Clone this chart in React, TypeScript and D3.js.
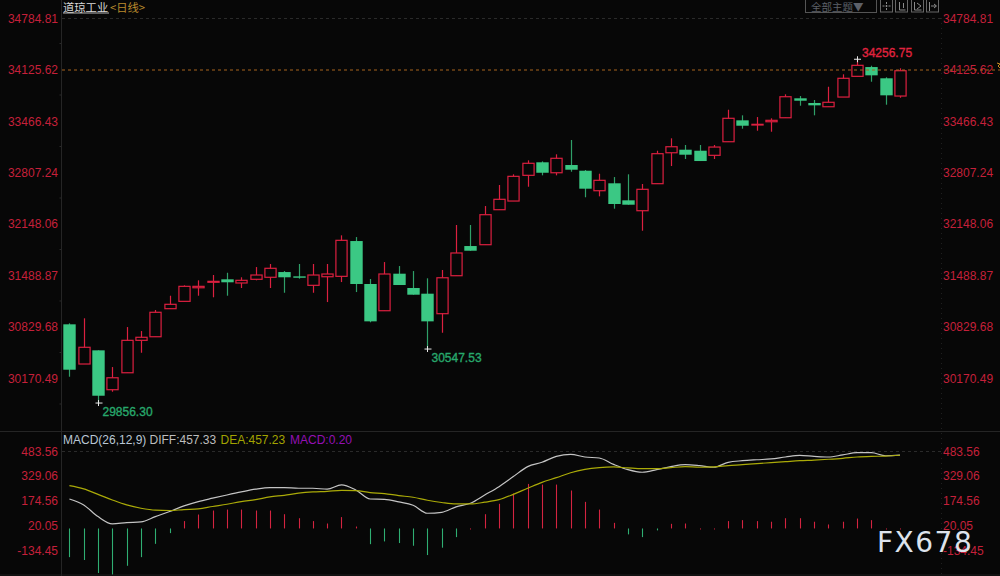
import * as d3 from "d3";

const opens = [30864,30356,30531,30027,30244,30659,30705,31064,31158,31332,31402,31440,31393,31440,31466,31533,31478,31363,31473,31478,31930,31380,31038,31512,31329,31256,31000,31486,31866,31883,32331,32442,32771,32938,32804,32903,32830,32574,32669,32451,32318,32664,33060,33099,33086,33027,33201,33475,33415,33457,33508,33757,33697,33649,33773,34038,34157,34013,33786];
const highs = [30877,30941,30531,30317,30829,30778,31047,31230,31363,31427,31495,31524,31466,31597,31636,31546,31636,31636,31636,32003,31981,31444,31661,31610,31546,31453,31559,32135,32135,32378,32647,32784,32963,32950,33040,33223,32839,32792,32749,32784,32660,33086,33245,33159,33159,33159,33611,33539,33517,33501,33808,33786,33735,33905,34064,34256.75,34174,34026,34141];
const lows = [30193,30356,29856.3,30001,30244,30500,30705,31064,31158,31230,31210,31230,31329,31427,31329,31268,31448,31268,31149,31405,31277,30890,31038,31367,31243,30547.53,30756,31486,31806,31883,32331,32442,32625,32771,32771,32817,32490,32502,32344,32395,32062,32664,32890,32980,32954,32980,33201,33368,33342,33329,33508,33662,33539,33649,33773,34038,33969,33675,33764];
const closes = [30283,30570,29950,30180,30659,30698,31018,31120,31350,31350,31414,31402,31427,31495,31581,31466,31460,31495,31508,31939,31380,30902,31508,31367,31243,30902,31460,31777,31806,32267,32464,32758,32925,32804,32989,32843,32600,32707,32404,32395,32592,33048,33137,33035,32954,33133,33501,33406,33424,33475,33777,33726,33667,33706,34013,34179,34051,33795,34110];

const diff = [184,147,74,29,37,41,74,106,141,168,189,209,228,245,255,255,251,251,245,272,240,184,182,166,145,95,101,135,157,209,261,324,386,413,450,463,446,440,400,367,351,367,386,398,392,382,413,423,429,434,446,456,450,446,459,473,473,454,457.33];
const dea = [267,247,213,178,147,126,114,112,118,122,137,151,168,180,197,207,220,228,232,238,236,224,218,205,195,176,162,153,153,164,180,213,251,288,317,348,369,380,384,378,373,373,380,386,382,384,392,398,405,411,417,423,427,432,438,446,450,452,457.23];
const hist = [-179,-197,-278,-287,-233,-179,-96,-29,46,87,112,118,118,112,112,89,64,46,31,71,12,-98,-81,-91,-108,-166,-120,-54,4,89,154,218,278,274,274,237,166,118,35,-37,-54,-12,29,31,6,6,46,52,46,42,64,64,42,25,42,62,52,4,0.2];

const priceTicks = ["34784.81","34125.62","33466.43","32807.24","32148.06","31488.87","30829.68","30170.49"];
const macdTicks = ["483.56","329.06","174.56","20.05","-134.45"];
const lastPrice = 34125.62;

const RED = "#dc2040";
const GREEN = "#3bc884";
const BG = "#070707";
const FONT = "'Liberation Sans', Arial, sans-serif";
const CJK = "'Noto Sans CJK SC', sans-serif";

const x = d3.scaleLinear().domain([0, opens.length - 1]).range([69.4, 900]);
const y = d3.scaleLinear().domain([34784.81, 30170.49]).range([18, 378.5]);
const my = d3.scaleLinear().domain([483.56, -134.45]).range([451, 550]);

const macdLine = d3
  .line<number>()
  .x((_, i) => x(i))
  .y((d) => my(d))
  .curve(d3.curveMonotoneX);

const App = () => {
  const lowIdx = [2, 25];
  const highIdx = 55;
  return (
    <svg width={1000} height={576} style={{ position: "fixed", left: 0, top: 0, background: BG }} fontFamily={FONT}>
      {/* frame lines */}
      <line x1={61.5} x2={61.5} y1={0} y2={576} stroke="#252525" />
      <line x1={0} x2={1000} y1={431.5} y2={431.5} stroke="#252525" />
      <line x1={0} x2={1000} y1={575} y2={575} stroke="#1c1c1c" />
      <line x1={941.5} x2={941.5} y1={18} y2={576} stroke="#202020" strokeDasharray="1 4" />
      <line x1={62} x2={941} y1={y(34784.81) + 0.5} y2={y(34784.81) + 0.5} stroke="#2a2a2a" strokeDasharray="3 3" />
      <line x1={62} x2={941} y1={my(483.56) + 0.5} y2={my(483.56) + 0.5} stroke="#2a2a2a" strokeDasharray="3 3" />

      {/* price axis */}
      {priceTicks.map((t) => (
        <g key={t} fontSize={12} fill="#c5203a">
          <text x={58} y={y(+t) + 4.5} textAnchor="end">{t}</text>
          <text x={943} y={y(+t) + 4.5}>{t}</text>
          <line x1={59.5} x2={61} y1={y(+t) + 25.5} y2={y(+t) + 25.5} stroke="#2a2a2a" />
        </g>
      ))}
      {macdTicks.map((t) => (
        <g key={t} fontSize={12} fill="#c5203a">
          <text x={58} y={my(+t) + 4.5} textAnchor="end">{t}</text>
          <text x={943} y={my(+t) + 4.5}>{t}</text>
        </g>
      ))}

      {/* candles */}
      {opens.map((o, i) => {
        const c = closes[i];
        const up = c >= o;
        const cx = Math.round(x(i)) + 0.5;
        const top = y(Math.max(o, c));
        const bottom = y(Math.min(o, c));
        return (
          <g key={i}>
            <line
              x1={cx}
              x2={cx}
              y1={y(highs[i])}
              y2={y(lows[i])}
              stroke={up ? RED : "#2f9f68"}
              strokeWidth={1.2}
            />
            {up ? (
              <rect x={cx - 5.6} y={top} width={11.2} height={bottom - top} fill={BG} stroke={RED} strokeWidth={1.2} />
            ) : (
              <rect x={cx - 6.2} y={top} width={12.4} height={bottom - top} fill={GREEN} />
            )}
          </g>
        );
      })}

      {/* last price line */}
      <line x1={62} x2={1000} y1={y(lastPrice) + 0.5} y2={y(lastPrice) + 0.5} stroke="#a8651f" strokeWidth={1.1} strokeDasharray="3 3" />
      <path d="M997 63 L1000 64 L998 66 L1000 68" fill="none" stroke="#c98a20" />

      {/* extreme markers */}
      {lowIdx.map((i) => {
        const cx = Math.round(x(i)) + 0.5;
        const my0 = y(lows[i]);
        return (
          <g key={i}>
            <path d={`M${cx - 3} ${my0}H${cx + 4}M${cx} ${my0 - 3}V${my0 + 3}`} stroke="#e8e8e8" />
            <text x={cx + 4} y={my0 + 12.5} fontSize={12} fill="#27a86c" stroke="#27a86c" strokeWidth={0.35}>
              {lows[i].toFixed(2)}
            </text>
          </g>
        );
      })}
      <path
        d={`M${Math.round(x(highIdx)) - 3} ${y(highs[highIdx])}h7M${Math.round(x(highIdx)) + 0.5} ${y(highs[highIdx]) - 3}v6`}
        stroke="#e8e8e8"
      />
      <text x={862} y={57} fontSize={12} fill="#e0233f" stroke="#e0233f" strokeWidth={0.35}>
        {highs[highIdx].toFixed(2)}
      </text>

      {/* macd */}
      {hist.map((v, i) => {
        const cx = Math.round(x(i)) + 0.5;
        return (
          <line
            key={i}
            x1={cx}
            x2={cx}
            y1={my(0)}
            y2={Math.abs(my(v) - my(0)) < 1 ? my(0) + 1 : my(v)}
            stroke={v >= 0 ? "#d42440" : "#2fae72"}
            strokeWidth={1.1}
          />
        );
      })}
      <path d={macdLine(diff) ?? ""} fill="none" stroke="#c4c4c4" strokeWidth={1.2} />
      <path d={macdLine(dea) ?? ""} fill="none" stroke="#aaaa08" strokeWidth={1.2} />

      {/* headers */}
      <text x={63} y={12} fontSize={11.3} fontFamily={CJK} fill="#d8d8d8">道琼工业</text>
      <line x1={63} x2={109} y1={13} y2={13} stroke="#b8b8b8" />
      <text x={110} y={12} fontSize={11.3} fontFamily={CJK} fill="#b98a2c">&lt;日线&gt;</text>
      <g fontSize={12}>
        <text x={63} y={444} fill="#b9c6d4">MACD(26,12,9)</text>
        <text x={149.5} y={444} fill="#bdbdbd">DIFF:457.33</text>
        <text x={220.5} y={444} fill="#a3a300">DEA:457.23</text>
        <text x={290} y={444} fill="#9410b4">MACD:0.20</text>
      </g>

      {/* toolbar */}
      <rect x={805.5} y={-1} width={71} height={13.5} fill="none" stroke="#555" />
      <text x={811} y={11} fontSize={10.5} fontFamily={CJK} fill="#5c6068">全部主题▼</text>
      {[880, 895, 911, 926].map((bx, i) => (
        <g key={bx} fill="none" stroke="#8a8a8a">
          <rect x={bx + 0.5} y={-1} width={12} height={13} stroke="#666" />
          {i === 0 && <path d={`M${bx + 6.5} 2v8M${bx + 2.5} 6h8`} strokeDasharray="2 1" />}
          {i === 1 && <path d={`M${bx + 4.5} 2v8h6M${bx + 8.5} 3v5`} />}
          {i === 2 && <path d={`M${bx + 3.5} 2v8h7M${bx + 6} 3l4 3l-4 3`} />}
          {i === 3 && <path d={`M${bx + 3.5} 2v9M${bx + 5} 6h5M${bx + 8} 4l2.5 2l-2.5 2`} />}
        </g>
      ))}

      {/* watermark */}
      <text x={877} y={552} fontSize={28} letterSpacing={1.5} fontFamily="'DejaVu Sans', sans-serif" fill="#dde3ec">FX678</text>
    </svg>
  );
};

export default App;
